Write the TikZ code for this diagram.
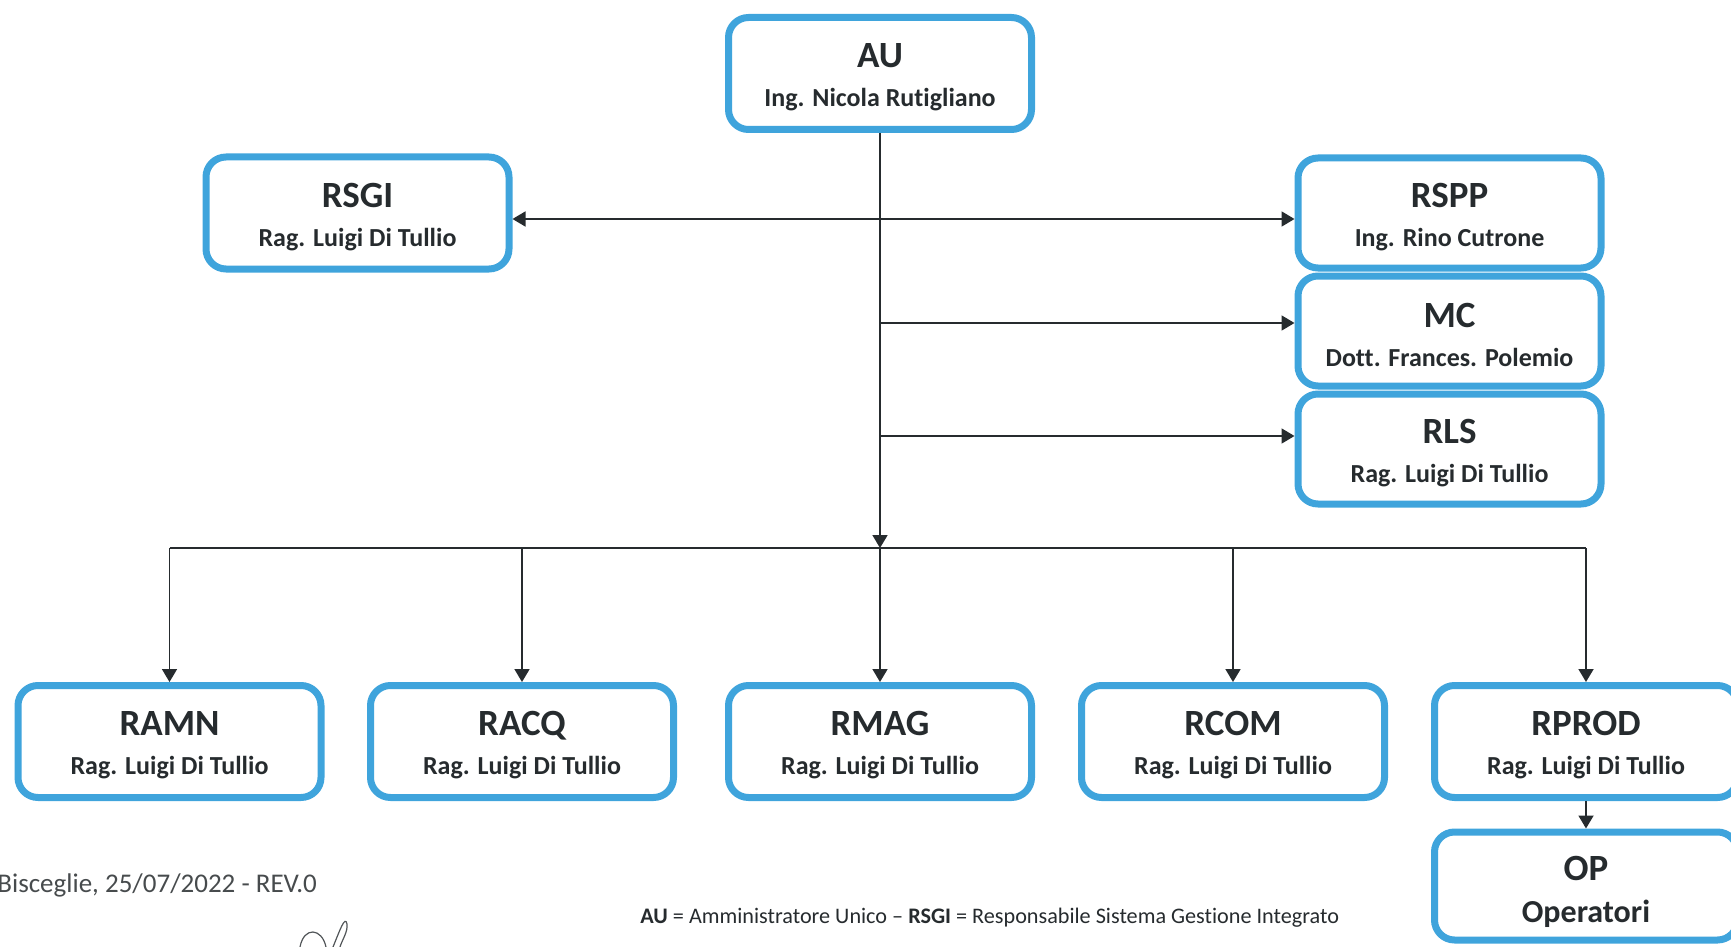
\documentclass[tikz,border=0pt]{standalone}
\usepackage{fontspec}
\setmainfont{Carlito}[Ligatures={TeX,NoCommon}]
\usepackage{xcolor}
\usetikzlibrary{arrows.meta}
\usetikzlibrary{positioning}
\definecolor{boxblue}{HTML}{3FA4DC}
\definecolor{inkgray}{HTML}{262B2E}
\newcommand{\ruolo}[2]{{\fontsize{18.5}{20}\selectfont\rule{0pt}{16pt}#1}\\[7.5pt]{\fontsize{13}{16}\selectfont #2}}

\begin{document}
\begin{tikzpicture}[x=0.5pt,y=-0.5pt,
	ruolobox/.style={draw=boxblue, line width=3.5pt, rounded corners=10pt, fill=white,
		minimum width=151.5pt, minimum height=56pt, align=center, font=\bfseries,
		text=inkgray, inner sep=0pt},
	conn/.style={draw=inkgray, line width=0.9pt, -{Triangle[length=6.5pt,width=7.5pt]}},
	linea/.style={draw=inkgray, line width=0.9pt}]
	\useasboundingbox (0,0) rectangle (1731,947);
	% draw boxes
	\node[ruolobox] (au) at (880,73.5) {\ruolo{AU}{Ing. Nicola Rutigliano}};
	\node[ruolobox] (rsgi) at (357.5,213) {\ruolo{RSGI}{Rag. Luigi Di Tullio}};
	\node[ruolobox, minimum height=55pt] (rspp) at (1449.5,213) {\ruolo{RSPP}{Ing. Rino Cutrone}};
	\node[ruolobox, minimum height=55pt] (mc) at (1449.5,331) {\ruolo{MC}{Dott. Frances. Polemio}};
	\node[ruolobox, minimum height=55pt] (rls) at (1449.5,449) {\ruolo{RLS}{Rag. Luigi Di Tullio}};
	\node[ruolobox] (ramn) at (169.5,741.5) {\ruolo{RAMN}{Rag. Luigi Di Tullio}};
	\node[ruolobox] (racq) at (522,741.5) {\ruolo{RACQ}{Rag. Luigi Di Tullio}};
	\node[ruolobox] (rmag) at (880,741.5) {\ruolo{RMAG}{Rag. Luigi Di Tullio}};
	\node[ruolobox] (rcom) at (1233,741.5) {\ruolo{RCOM}{Rag. Luigi Di Tullio}};
	\node[ruolobox] (rprod) at (1586,741.5) {\ruolo{RPROD}{Rag. Luigi Di Tullio}};
	\node[ruolobox, minimum height=54pt] (op) at (1586,886) {{\fontsize{18.5}{20}\selectfont\rule{0pt}{18pt}OP}\\[9pt]{\fontsize{16}{18}\selectfont Operatori}};
	
	% draw connectors
	\coordinate (bus) at (880,548);
	\draw[conn] (au.south) -- (bus);
	\draw[conn, {Triangle[length=6.5pt,width=7.5pt]}-{Triangle[length=6.5pt,width=7.5pt]}] ([yshift=-3pt]rsgi.east) -- ([yshift=-3pt]rspp.west);
	\coordinate (mcin) at ([yshift=4pt]mc.west);
	\coordinate (rlsin) at ([yshift=6.5pt]rls.west);
	\draw[conn] (au.south |- mcin) -- (mcin);
	\draw[conn] (au.south |- rlsin) -- (rlsin);
	\draw[linea] (ramn.north |- bus) -- (rprod.north |- bus);
	\foreach \n in {ramn,racq,rmag,rcom,rprod}
		\draw[conn] (\n.north |- bus) -- (\n.north);
	\draw[conn] (rprod) -- (op);
	
	% add texts
	\node[anchor=base west, inner sep=0pt, font=\fontsize{13.5}{16}\selectfont, text=inkgray!85] (data) at (-3,892) {Bisceglie, 25/07/2022 - REV.0};
	\node[anchor=base west, inner sep=0pt, font=\fontsize{11.1}{14}\selectfont, text=inkgray] (legenda) at (640,923) {\textbf{AU} = Amministratore Unico -- \textbf{RSGI} = Responsabile Sistema Gestione Integrato};
	% signature
	\draw[inkgray!80, line width=0.6pt] (300,947) .. controls (304,926) and (322,928) .. (326,947);
	\draw[inkgray!80, line width=0.6pt] (333,947) .. controls (340,930) and (345,915) .. (347,924) .. controls (348,932) and (342,940) .. (340,947);
\end{tikzpicture}
\end{document}
